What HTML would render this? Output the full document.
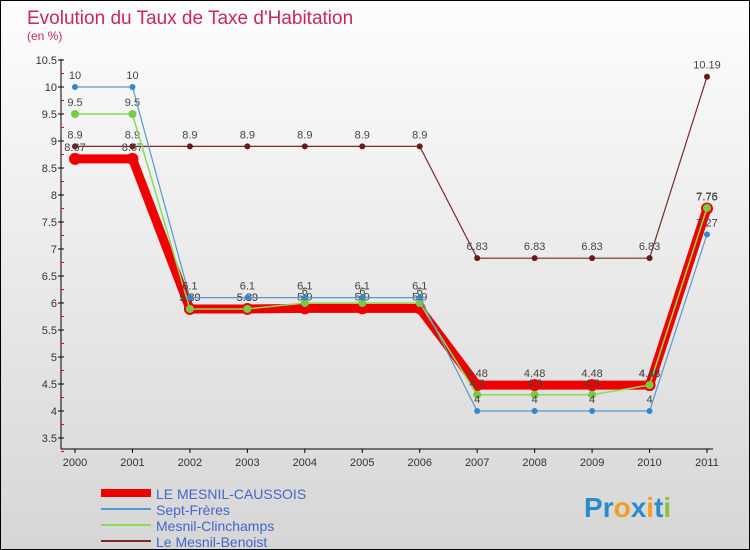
<!DOCTYPE html>
<html><head><meta charset="utf-8"><style>
body{margin:0;}
#c{width:750px;height:550px;position:relative;box-sizing:border-box;border:1px solid #000;background:linear-gradient(#fdfdfd,#d6d6d6);font-family:"Liberation Sans",sans-serif;overflow:hidden}
</style></head><body>
<div id="c">
<svg id="s" width="748" height="548" xmlns="http://www.w3.org/2000/svg"></svg>
</div>
<script>
const years=["2000","2001","2002","2003","2004","2005","2006","2007","2008","2009","2010","2011"];
const caussois=[8.67,8.67,5.89,5.89,5.9,5.9,5.9,4.48,4.48,4.48,4.48,7.75];
const septFreres=[10,10,6.1,6.1,6.1,6.1,6.1,4,4,4,4,7.27];
const clinchamps=[9.5,9.5,5.89,5.89,6,6,6,4.3,4.3,4.3,4.48,7.76];
const benoist=[8.9,8.9,8.9,8.9,8.9,8.9,8.9,6.83,6.83,6.83,6.83,10.19];
const yTicks=["3.5","4","4.5","5","5.5","6","6.5","7","7.5","8","8.5","9","9.5","10","10.5"];
const NS="http://www.w3.org/2000/svg";
const s=document.getElementById('s');
const X=i=>74+i*(632/11);
const Y=v=>437-(v-3.5)*54;
function el(t,a,p){const e=document.createElementNS(NS,t);for(const k in a)e.setAttribute(k,a[k]);(p||s).appendChild(e);return e;}
function tx(x,y,str,a){const e=el('text',Object.assign({x:x,y:y},a));e.textContent=str;return e;}
let t=tx(26,23,"Evolution du Taux de Taxe d'Habitation",{fill:"#c8285a","font-size":19});

t=tx(26,39,"(en %)",{fill:"#c8285a","font-size":12});

// axes
let a=el('line',{x1:60,y1:58,x2:60,y2:448,stroke:"#000"});
a=el('line',{x1:60,y1:448,x2:712,y2:448,stroke:"#000"});
yTicks.forEach(v=>{const y=Y(+v);
 el('line',{x1:57,y1:y,x2:63,y2:y,stroke:"#000"});
 const l=tx(56,y+4,v,{"font-size":11,fill:"#333","text-anchor":"end"});
 
 el('line',{x1:60,y1:y+13.5,x2:63,y2:y+13.5,stroke:"#e00"});
});
years.forEach((yr,i)=>{const x=X(i);
 el('line',{x1:x,y1:448,x2:x,y2:452,stroke:"#000"});
 const l=tx(x,465,yr,{"font-size":11,fill:"#333","text-anchor":"middle"});
 
});
function series(vals,color,w,r,fill,name,labels){
 const g=el('g',{});
 el('polyline',{points:vals.map((v,i)=>X(i)+','+Y(v)).join(' '),fill:"none",stroke:color,"stroke-width":w,"stroke-linejoin":"round"},g);
 vals.forEach((v,i)=>{el('circle',{cx:X(i),cy:Y(v),r:r,fill:fill},g);
  if(labels)tx(X(i),Y(v)-8,String(v),{"font-size":11,fill:"#444","text-anchor":"middle"},g);});
}
series(benoist,"#7a2a2a",1.2,3,"#6a1a1a","series-le-mesnil-benoist",true);
series(caussois,"#ee0000",9,6,"#ee0000","series-le-mesnil-caussois",true);
series(clinchamps,"#88dd55",1.5,4,"#77cc44","series-mesnil-clinchamps",true);
series(septFreres,"#5599cc",1.2,3,"#3388cc","series-sept-freres",true);
// legend
const leg=[["LE MESNIL-CAUSSOIS","#ee0000",8],["Sept-Frères","#5599cc",2],["Mesnil-Clinchamps","#88dd55",2],["Le Mesnil-Benoist","#7a2a2a",2]];
leg.forEach((d,i)=>{const y=492+i*16;const g=el('g',{});
 
 el('line',{x1:100,y1:y,x2:150,y2:y,stroke:d[1],"stroke-width":d[2]},g);
 tx(155,y+6,d[0],{"font-size":14,fill:"#4466cc"},g);});
const lg=el('text',{x:583,y:516,"font-size":28,"font-weight":"bold"});

[["P","#2a8ccc"],["r","#2a8ccc"],["o","#f0a020"],["x","#2a8ccc"],["i","#f0a020"],["t","#2a8ccc"],["i","#8cc040"]].forEach(c=>{const ts=el('tspan',{fill:c[1]},lg);ts.textContent=c[0];});
</script>
</body></html>
